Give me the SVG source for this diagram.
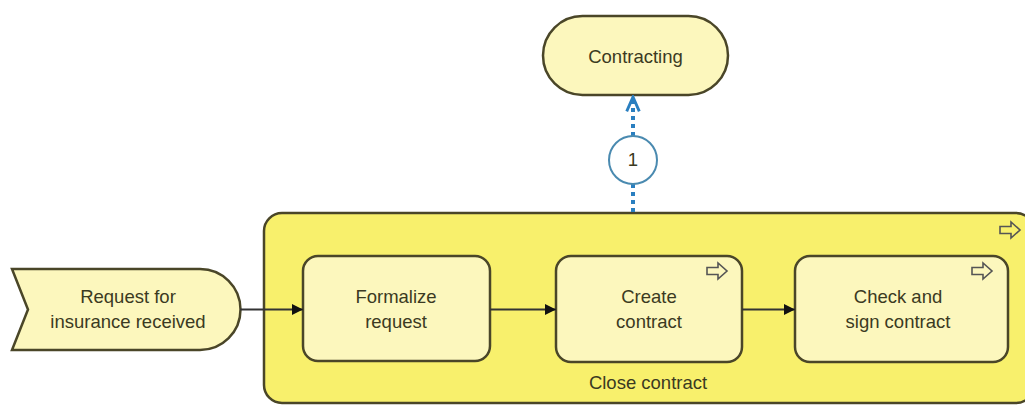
<svg xmlns="http://www.w3.org/2000/svg" width="1025" height="405" viewBox="0 0 1025 405">
<style>
.t{font-family:"Liberation Sans",Arial,sans-serif;font-size:18.5px;fill:#3b3a22;text-anchor:middle}
.box{fill:#fcf7bd;stroke:#4a4628;stroke-width:2.5}
.flow{stroke:#333;stroke-width:1.8;fill:none}
.icon{fill:none;stroke:#555;stroke-width:1.6}
</style>
<defs>
<marker id="ah" viewBox="0 0 10 10" refX="10" refY="5" markerWidth="13" markerHeight="11" orient="auto" markerUnits="userSpaceOnUse">
<path d="M0,0 L10,5 L0,10 z" fill="#111"/>
</marker>
<marker id="bh" viewBox="0 0 10 10" refX="9" refY="5" markerWidth="18" markerHeight="18" orient="auto" markerUnits="userSpaceOnUse">
<path d="M1,1.5 L9,5 L1,8.5" fill="none" stroke="#2a7fc0" stroke-width="1.6"/>
</marker>
<path id="ic" d="M0,-3.5 h11 v-4.5 l9,8 l-9,8 v-4.5 h-11 z"/>
</defs>
<rect width="1025" height="405" fill="#ffffff"/>
<g id="close-contract">
<rect x="264" y="213" width="770" height="190" rx="18" fill="#f8f06c" stroke="#4a4628" stroke-width="2.5"/>
<use href="#ic" x="1000" y="230" class="icon"/>
<text class="t" x="648" y="389">Close contract</text>
</g>
<g id="contracting">
<rect x="543" y="16" width="185" height="79" rx="39.5" class="box"/>
<text class="t" x="635.5" y="63">Contracting</text>
</g>
<g id="request">
<path d="M12,269 H200 A40.5,40.5 0 0 1 200,350 H12 L28,309.5 Z" class="box"/>
<text class="t" x="128" y="303">Request for</text>
<text class="t" x="128" y="328">insurance received</text>
</g>
<g id="formalize">
<rect x="303" y="256" width="187" height="105" rx="15" class="box"/>
<text class="t" x="396" y="303">Formalize</text>
<text class="t" x="396" y="328">request</text>
</g>
<g id="create">
<rect x="556" y="256" width="186" height="106" rx="15" class="box"/>
<use href="#ic" x="707" y="271" class="icon"/>
<text class="t" x="649" y="303">Create</text>
<text class="t" x="649" y="328">contract</text>
</g>
<g id="check">
<rect x="795" y="256" width="213" height="106" rx="15" class="box"/>
<use href="#ic" x="972" y="271" class="icon"/>
<text class="t" x="898" y="303">Check and</text>
<text class="t" x="898" y="328">sign contract</text>
</g>
<g id="connectors">
<line class="flow" x1="240" y1="309.5" x2="303" y2="309.5" marker-end="url(#ah)"/>
<line class="flow" x1="490" y1="309.5" x2="556" y2="309.5" marker-end="url(#ah)"/>
<line class="flow" x1="742" y1="309.5" x2="795" y2="309.5" marker-end="url(#ah)"/>
<line x1="633" y1="212" x2="633" y2="184" stroke="#2a7fc0" stroke-width="4" stroke-dasharray="4,4"/>
<line x1="633" y1="136" x2="633" y2="97" stroke="#2a7fc0" stroke-width="4" stroke-dasharray="4,4" marker-end="url(#bh)"/>
<g id="cond">
<circle cx="633" cy="160" r="24" fill="#ffffff" stroke="#4a8ab0" stroke-width="2"/>
<text class="t" x="633" y="166">1</text>
</g>
</g>
</svg>
